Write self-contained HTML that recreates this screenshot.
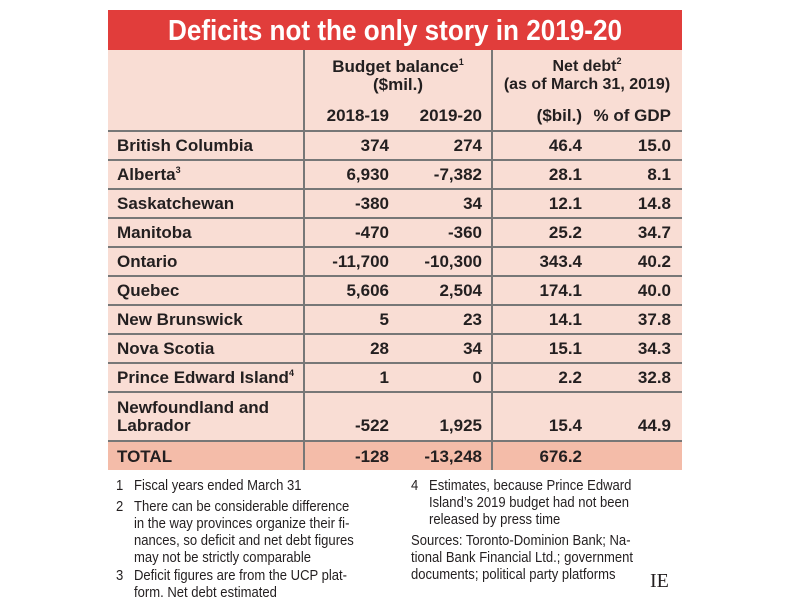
<!DOCTYPE html>
<html><head><style>
body{margin:0;width:800px;height:600px;background:#fff;position:relative;overflow:hidden;font-family:"Liberation Sans",sans-serif;color:#231f20}
.a{position:absolute}
#t{left:108px;top:10px;width:574px;height:40px;background:#e13d3b}
#tt{position:absolute;left:0;width:574px;top:0;color:#fff;font-weight:bold;font-size:29px;text-align:center;line-height:42px;transform:scaleX(0.9);transform-origin:287px 0}
#h{left:108px;top:50px;width:574px;height:420px;background:#f9ddd4}
#tot{left:108px;top:441px;width:574px;height:29px;background:#f4bca9}
.hl{position:absolute;left:108px;width:574px;height:1.5px;background:#777}
.vl{position:absolute;top:50px;width:1.5px;height:420px;background:#777}
.c{position:absolute;font-size:17px;font-weight:bold;white-space:nowrap}
.r{text-align:right}
sup{font-size:9px;position:relative;top:-7px;vertical-align:baseline;line-height:0}
.f{position:absolute;font-size:14.5px;line-height:17px;white-space:nowrap;transform:scaleX(0.9);transform-origin:0 0}
.n{position:absolute}
</style></head><body>
<div class="a" id="t"><div id="tt">Deficits not the only story in 2019-20</div></div>
<div class="a" id="h"></div>
<div class="a" id="tot"></div>
<div class="hl" style="top:130px"></div><div class="hl" style="top:159px"></div><div class="hl" style="top:188px"></div><div class="hl" style="top:217px"></div><div class="hl" style="top:246px"></div><div class="hl" style="top:275px"></div><div class="hl" style="top:304px"></div><div class="hl" style="top:333px"></div><div class="hl" style="top:362px"></div><div class="hl" style="top:391px"></div><div class="hl" style="top:440px"></div>
<div class="vl" style="left:303px"></div><div class="vl" style="left:491px"></div>
<div class="c" style="left:303px;width:190px;top:58px;text-align:center;line-height:18px">Budget balance<sup>1</sup><br>($mil.)</div>
<div class="c" style="left:492px;width:190px;top:58px;text-align:center;line-height:18px;font-size:16px">Net debt<sup>2</sup><br>(as of March 31, 2019)</div>
<div class="c r" style="right:411px;top:106px">2018-19</div>
<div class="c r" style="right:318px;top:106px">2019-20</div>
<div class="c r" style="right:218px;top:106px">($bil.)</div>
<div class="c r" style="right:129px;top:106px">% of GDP</div>
<div id="rows"></div>
<script>
var d=[["British Columbia","374","274","46.4","15.0",137],["Alberta<sup>3</sup>","6,930","-7,382","28.1","8.1",166],["Saskatchewan","-380","34","12.1","14.8",195],["Manitoba","-470","-360","25.2","34.7",224],["Ontario","-11,700","-10,300","343.4","40.2",253],["Quebec","5,606","2,504","174.1","40.0",282],["New Brunswick","5","23","14.1","37.8",311],["Nova Scotia","28","34","15.1","34.3",340],["Prince Edward Island<sup>4</sup>","1","0","2.2","32.8",369],["Newfoundland and<br>Labrador","-522","1,925","15.4","44.9",399],["TOTAL","-128","-13,248","676.2","",448]];
var h="";d.forEach(function(r){var t=r[5];var o=r[0].indexOf("<br>")>0?18:0;
h+='<div class="c" style="left:117px;top:'+t+'px;line-height:18px">'+r[0]+'</div>';
[[411,r[1]],[318,r[2]],[218,r[3]],[129,r[4]]].forEach(function(c){h+='<div class="c r" style="right:'+c[0]+'px;top:'+(t+o)+'px;line-height:18px">'+c[1]+'</div>'});});
document.getElementById("rows").innerHTML=h;
</script>
<div class="f" style="left:116px;top:478px"><span class="n" style="left:0">1</span><span style="margin-left:20px">Fiscal years ended March 31</span></div>
<div class="f" style="left:116px;top:499px"><span class="n" style="left:0">2</span><div style="margin-left:20px">There can be considerable difference<br>in the way provinces organize their fi-<br>nances, so deficit and net debt figures<br>may not be strictly comparable</div></div>
<div class="f" style="left:116px;top:568px"><span class="n" style="left:0">3</span><div style="margin-left:20px">Deficit figures are from the UCP plat-<br>form. Net debt estimated</div></div>
<div class="f" style="left:411px;top:478px"><span class="n" style="left:0">4</span><div style="margin-left:20px">Estimates, because Prince Edward<br>Island’s 2019 budget had not been<br>released by press time</div></div>
<div class="f" style="left:411px;top:533px">Sources: Toronto-Dominion Bank; Na-<br>tional Bank Financial Ltd.; government<br>documents; political party platforms</div>
<div class="a" style="left:650px;top:570px;font-family:'Liberation Serif',serif;font-size:20px">IE</div>
</body></html>
